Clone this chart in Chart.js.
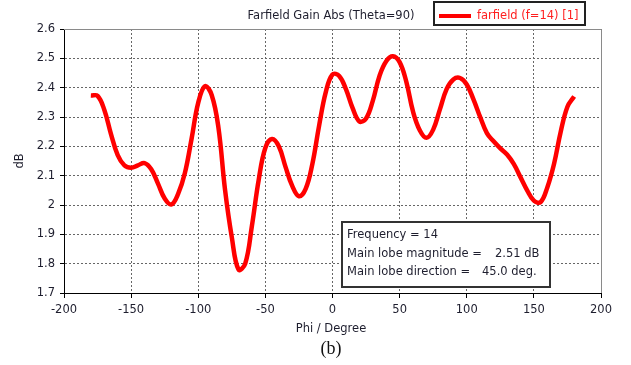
<!DOCTYPE html>
<html>
<head>
<meta charset="utf-8">
<script src="https://cdn.jsdelivr.net/npm/chart.js@4.4.0/dist/chart.umd.min.js"></script>
<style>
  html, body { margin: 0; padding: 0; background: #fff; }
  #wrap { width: 631px; height: 365px; position: relative; }
</style>
</head>
<body>
<div id="wrap"><canvas id="farfield"></canvas></div>
<script>
// Farfield gain (Theta=90) vs phi
const phi = [-180,-175,-170,-165,-160,-155,-150,-145,-140,-135,-130,-125,-120,-115,-110,-105,-100,-95,-90,-85,-80,-75,-70,-65,-60,-55,-50,-45,-40,-35,-30,-25,-20,-15,-10,-5,
             0,5,10,15,20,25,30,35,40,45,50,55,60,65,70,75,80,85,90,95,100,105,110,115,120,125,130,135,140,145,150,155,160,165,170,175,180];
const gainDb = [2.373,2.372,2.325,2.242,2.170,2.135,2.127,2.135,2.143,2.122,2.073,2.022,2.002,2.038,2.108,2.225,2.349,2.405,2.375,2.265,2.050,1.890,1.780,1.800,1.930,2.085,2.195,2.225,2.200,2.130,2.065,2.030,2.055,2.140,2.270,2.385,
                2.445,2.440,2.395,2.330,2.285,2.295,2.355,2.440,2.490,2.507,2.487,2.420,2.318,2.255,2.229,2.257,2.326,2.395,2.428,2.433,2.411,2.360,2.300,2.245,2.217,2.193,2.172,2.140,2.095,2.050,2.015,2.010,2.060,2.140,2.250,2.335,2.370];

const xTicks = [-200, -150, -100, -50, 0, 50, 100, 150, 200];
const yTicks = [1.7, 1.8, 1.9, 2.0, 2.1, 2.2, 2.3, 2.4, 2.5, 2.6];

const chartTitle = 'Farfield Gain Abs (Theta=90)';
const seriesName = 'farfield (f=14) [1]';
const xTitle = 'Phi / Degree';
const yTitle = 'dB';
const caption = '(b)';
const infoRows = [
    ['Frequency = 14', ''],
    ['Main lobe magnitude =', '2.51 dB'],
    ['Main lobe direction =', '45.0 deg.']
];

const FONT = '"DejaVu Sans", sans-serif';
const TEXT = '#1e1e2e';

const overlay = {
    id: 'overlay',
    afterDraw(chart) {
        const ctx = chart.ctx;
        const a = chart.chartArea;
        ctx.save();

        // top / right frame in grey
        ctx.strokeStyle = '#8a8a8a';
        ctx.lineWidth = 1;
        ctx.beginPath();
        ctx.moveTo(a.left, a.top + 0.5);
        ctx.lineTo(a.right + 0.5, a.top + 0.5);
        ctx.lineTo(a.right + 0.5, a.bottom);
        ctx.stroke();

        // title
        ctx.fillStyle = TEXT;
        ctx.font = '11.5px ' + FONT;
        ctx.textAlign = 'center';
        ctx.textBaseline = 'middle';
        ctx.fillText(chartTitle, 331, 16);

        // legend box
        ctx.strokeStyle = '#222';
        ctx.lineWidth = 2;
        ctx.strokeRect(434, 2, 151, 23);
        ctx.strokeStyle = '#ff0000';
        ctx.lineWidth = 4;
        ctx.beginPath();
        ctx.moveTo(439, 16);
        ctx.lineTo(471, 16);
        ctx.stroke();
        ctx.fillStyle = '#ff2020';
        ctx.textAlign = 'left';
        ctx.fillText(seriesName, 477, 16);

        // axis titles + caption
        ctx.fillStyle = TEXT;
        ctx.textAlign = 'center';
        ctx.fillText(xTitle, 331, 329);
        ctx.save();
        ctx.translate(20, (a.top + a.bottom) / 2);
        ctx.rotate(-Math.PI / 2);
        ctx.fillText(yTitle, 0, 0);
        ctx.restore();
        ctx.font = '18px "Liberation Serif", serif';
        ctx.fillStyle = '#111';
        ctx.fillText(caption, 331, 349);

        // info box
        ctx.fillStyle = '#fff';
        ctx.fillRect(342, 222, 208, 65);
        ctx.strokeStyle = '#333';
        ctx.lineWidth = 2;
        ctx.strokeRect(342, 222, 208, 65);
        ctx.fillStyle = TEXT;
        ctx.font = '11.5px ' + FONT;
        ctx.textAlign = 'left';
        const rowY = [235, 254, 272];
        const valX = [0, 495, 482];
        infoRows.forEach((r, i) => {
            ctx.fillText(r[0], 347, rowY[i]);
            if (r[1]) ctx.fillText(r[1], valX[i], rowY[i]);
        });
        ctx.restore();
    }
};

new Chart(document.getElementById('farfield'), {
    type: 'line',
    data: {
        datasets: [{
            label: seriesName,
            data: phi.map((p, i) => ({ x: p, y: gainDb[i] })),
            borderColor: '#ff0000',
            borderWidth: 4.5,
            pointRadius: 0,
            tension: 0.4,
            fill: false
        }]
    },
    options: {
        responsive: true,
        maintainAspectRatio: false,
        animation: false,
        devicePixelRatio: 1,
        layout: { padding: { top: 29, right: 30, left: 0, bottom: 0 } },
        plugins: { legend: { display: false }, title: { display: false }, tooltip: { enabled: false } },
        scales: {
            x: {
                type: 'linear',
                min: -200, max: 200,
                afterFit: s => { s.height = 72; },
                afterBuildTicks: s => { s.ticks = xTicks.map(v => ({ value: v })); },
                ticks: { color: TEXT, font: { family: FONT, size: 11.5 }, padding: 5, maxRotation: 0,
                         callback: v => String(v) },
                grid: { color: '#666', tickColor: '#000', tickLength: 5, tickBorderDash: [0, 0] },
                border: { color: '#000', width: 1, dash: [2, 2] }
            },
            y: {
                type: 'linear',
                min: 1.7, max: 2.6,
                afterFit: s => { s.width = 64; },
                afterBuildTicks: s => { s.ticks = yTicks.map(v => ({ value: v })); },
                ticks: { color: TEXT, font: { family: FONT, size: 11.5 }, padding: 5,
                         callback: v => String(Number(v.toFixed(1))) },
                grid: { color: '#666', tickColor: '#000', tickLength: 4, tickBorderDash: [0, 0] },
                border: { color: '#000', width: 1, dash: [2, 2] }
            }
        }
    },
    plugins: [overlay]
});
</script>
</body>
</html>
